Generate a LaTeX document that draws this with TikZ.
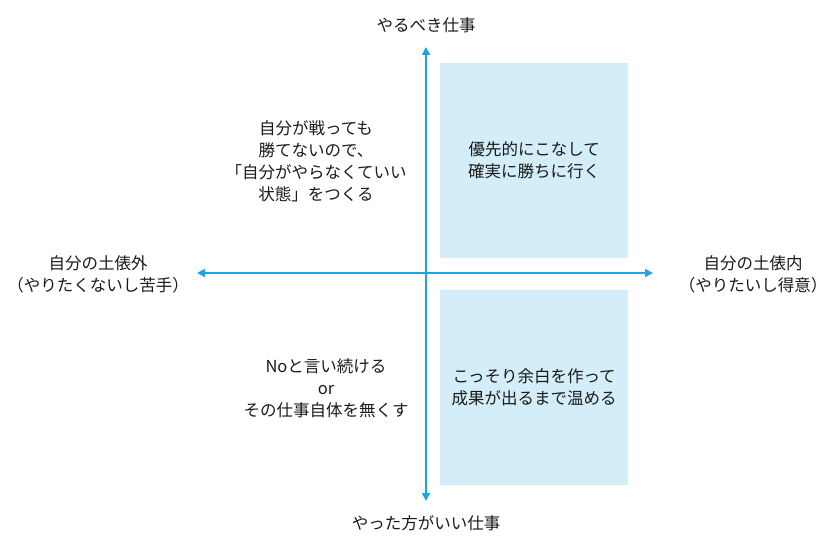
\documentclass[tikz,border=0pt]{standalone}
\usepackage{fontspec}
\setmainfont{Noto Sans CJK JP}
\usepackage{xcolor}
\usetikzlibrary{arrows.meta,positioning}
\definecolor{qdaxis}{HTML}{1BA6E0}
\definecolor{qdfill}{HTML}{D3EDF9}
\definecolor{qdink}{HTML}{1A1A1A}

\begin{document}
\begin{tikzpicture}[
  x=1pt,y=-1pt,
  every node/.style={font=\fontsize{16.5}{22}\selectfont,align=center,text=qdink,inner sep=0pt},
  quad/.style={fill=qdfill,draw=none,minimum width=188pt,minimum height=195pt,anchor=north west},
  axis/.style={{Triangle[length=8pt,width=8pt]}-{Triangle[length=8pt,width=8pt]},line width=1.8pt,color=qdaxis}
]
\useasboundingbox (0,0) rectangle (835,548);
% quadrant boxes
\node[quad] (winbox) at (440,63) {};
\node[quad] (warmbox) at (440,290) {};
% axis end points
\coordinate (ytop) at (426,47);
\coordinate (ybot) at (426,501);
\coordinate (xleft) at (197,273);
\coordinate (xright) at (653,273);
\draw[axis] (ybot) -- (ytop);
\draw[axis] (xleft) -- (xright);
% axis labels
\node (must) at (426,25) {やるべき仕事};
\node (better) at (426,523) {やった方がいい仕事};
\node (outside) at (98,274) {自分の土俵外\\（やりたくないし苦手）};
\node (inside) at (753,274) {自分の土俵内\\（やりたいし得意）};
% quadrant texts
\node (delegate) at (316,161) {自分が戦っても\\勝てないので、\\「自分がやらなくていい\\状態」をつくる};
\node at (winbox.center) {優先的にこなして\\確実に勝ちに行く};
\node (refuse) at (326,388) {Noと言い続ける\\or\\その仕事自体を無くす};
\node at (warmbox.center) {こっそり余白を作って\\成果が出るまで温める};
\end{tikzpicture}
\end{document}
